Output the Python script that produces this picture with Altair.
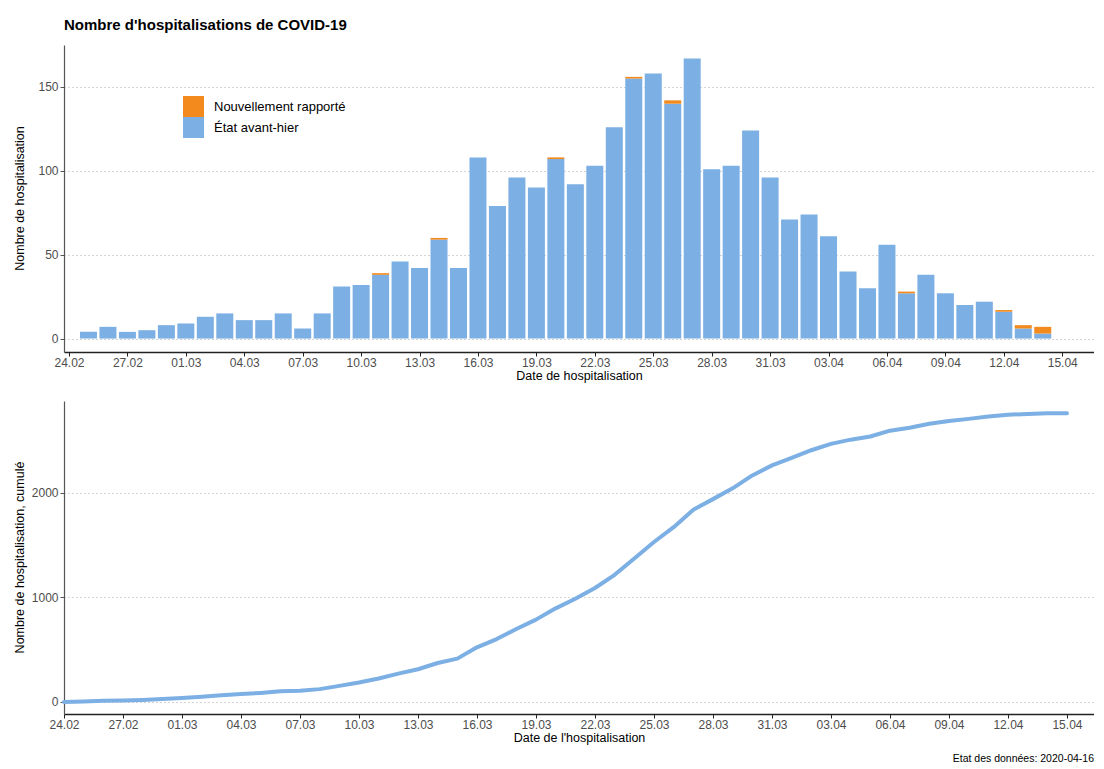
import altair as alt
import pandas as pd

title_text = "Nombre d'hospitalisations de COVID-19"
footer_text = "Etat des données: 2020-04-16"

# one bar per hospitalisation day, 25.02 -> 14.04
bar_dates = [d.strftime("%Y-%m-%d") for d in pd.date_range("2020-02-25", "2020-04-14")]
etat_avant_hier = [4, 7, 4, 5, 8, 9, 13, 15, 11, 11, 15, 6, 15, 31, 32,
                   38, 46, 42, 59, 42, 108, 79, 96, 90, 107, 92, 103, 126, 155, 158,
                   140, 167, 101, 103, 124, 96, 71, 74, 61, 40, 30, 56, 27, 38, 27,
                   20, 22, 16, 6, 3]
nouvellement_rapporte = [0, 0, 0, 0, 0, 0, 0, 0, 0, 0, 0, 0, 0, 0, 0,
                         1, 0, 0, 1, 0, 0, 0, 0, 0, 1, 0, 0, 0, 1, 0,
                         2, 0, 0, 0, 0, 0, 0, 0, 0, 0, 0, 0, 1, 0, 0,
                         0, 0, 1, 2, 4]

# cumulative curve, 24.02 -> 15.04
cumul_dates = [d.strftime("%Y-%m-%d") for d in pd.date_range("2020-02-24", "2020-04-15")]
cumul_values = [0, 4, 11, 15, 20, 28,
                37, 50, 65, 76, 87, 102, 108, 123, 154, 186,
                225, 271, 313, 373, 415, 523, 602, 698, 788, 896,
                988, 1091, 1217, 1373, 1531, 1673, 1840, 1941, 2044, 2168, 2264,
                2335, 2409, 2470, 2510, 2540, 2596, 2624, 2662, 2689, 2709, 2731,
                2748, 2756, 2763, 2763]

tick_dates = ["2020-02-24", "2020-02-27", "2020-03-01", "2020-03-04", "2020-03-07",
              "2020-03-10", "2020-03-13", "2020-03-16", "2020-03-19", "2020-03-22",
              "2020-03-25", "2020-03-28", "2020-03-31", "2020-04-03", "2020-04-06",
              "2020-04-09", "2020-04-12", "2020-04-15"]

series_names = ["Nouvellement rapporté", "État avant-hier"]
series_colors = ["#F28A1E", "#7CAFE3"]


def ms(s):
    return int(pd.Timestamp(s, tz="UTC").timestamp() * 1000)


tick_ms = [ms(d) for d in tick_dates]
x_domain = [ms("2020-02-24"), ms("2020-04-16T09:00:00")]

rows = []
for d, b, o in zip(bar_dates, etat_avant_hier, nouvellement_rapporte):
    rows.append({"date": d, "serie": series_names[1], "valeur": b, "ordre": 0})
    rows.append({"date": d, "serie": series_names[0], "valeur": o, "ordre": 1})
bars_df = pd.DataFrame(rows)
cumul_df = pd.DataFrame({"date": cumul_dates, "cumul": cumul_values})

FONT = "Liberation Sans"
W = 1030


def x_enc(title):
    return alt.X(
        "date:T",
        scale=alt.Scale(type="utc", domain=x_domain, nice=False),
        axis=alt.Axis(
            values=tick_ms,
            labelExpr="utcFormat(datum.value, '%d.%m')",
            title=title,
            grid=False,
            domainColor="#222222",
            domainWidth=1.6,
            tickColor="#222222",
            tickSize=4,
            labelPadding=1,
            titlePadding=1,
            labelFlush=False,
        ),
    )


top = (
    alt.Chart(bars_df, title=alt.Title(title_text, anchor="start", frame="group",
                                        fontSize=15, font=FONT, fontWeight="bold",
                                        color="#000000", offset=12))
    .mark_bar(size=17)
    .encode(
        x=x_enc("Date de hospitalisation"),
        y=alt.Y(
            "valeur:Q",
            stack="zero",
            scale=alt.Scale(domain=[-8, 175], nice=False, zero=False),
            axis=alt.Axis(values=[0, 50, 100, 150], title="Nombre de hospitalisation",
                          titleX=-45, titleY=153, titleBaseline="middle", titleAngle=-90),
        ),
        color=alt.Color(
            "serie:N",
            scale=alt.Scale(domain=series_names, range=series_colors),
            legend=alt.Legend(orient="none", legendX=119, legendY=51, title=None,
                              symbolType="square", symbolSize=441, symbolStrokeWidth=0,
                              labelFontSize=13, labelColor="#000000", rowPadding=0,
                              labelOffset=10),
        ),
        order=alt.Order("ordre:Q", sort="ascending"),
    )
    .properties(width=W, height=307)
)

bottom = (
    alt.Chart(cumul_df, title=alt.Title(footer_text, orient="bottom", anchor="end",
                                         fontSize=10.5, fontWeight="normal", font=FONT,
                                         color="#000000", offset=10))
    .mark_line(strokeWidth=4, color="#7CAFE3", strokeCap="round", strokeJoin="round")
    .encode(
        x=x_enc("Date de l'hospitalisation"),
        y=alt.Y(
            "cumul:Q",
            scale=alt.Scale(domain=[-115, 2880], nice=False, zero=False),
            axis=alt.Axis(values=[0, 1000, 2000], format="d",
                          title="Nombre de hospitalisation, cumulé",
                          titleX=-45, titleY=156, titleBaseline="middle", titleAngle=-90),
        ),
    )
    .properties(width=W, height=313)
)

chart = (
    alt.vconcat(top, bottom, spacing=19)
    .properties(padding={"left": 5, "top": 10, "right": 0, "bottom": 0})
    .configure_view(stroke=None)
    .configure_axis(
        labelFont=FONT,
        titleFont=FONT,
        labelFontSize=12,
        titleFontSize=12.5,
        labelColor="#4D4D4D",
        titleColor="#000000",
        titleFontWeight="normal",
        gridColor="#AAAAAA",
        gridDash=[1, 3],
        gridWidth=1,
    )
    .configure_axisY(domainColor="#555555", domainWidth=1.2, tickColor="#555555", tickSize=4)
    .configure_legend(labelFont=FONT)
)

chart.save("out.html", embed_options={"renderer": "svg", "actions": False})
